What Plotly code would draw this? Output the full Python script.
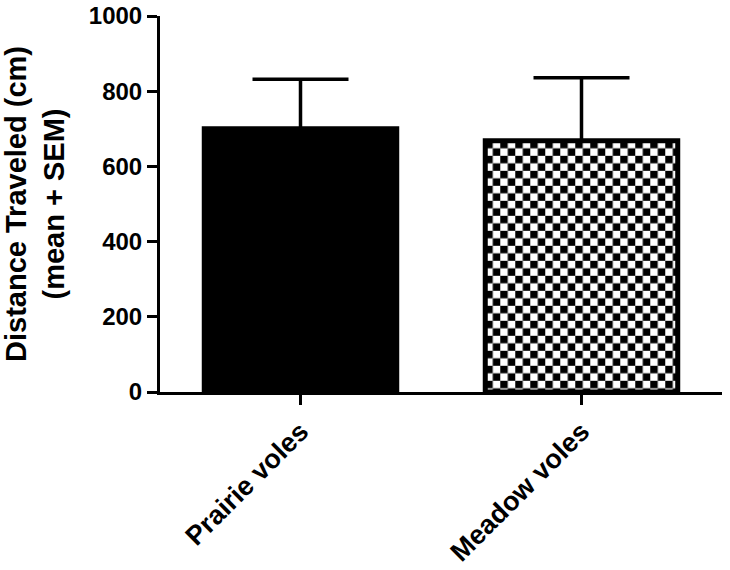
import base64
import plotly.graph_objects as go

# data
groups = ["Prairie voles", "Meadow voles"]
means = [700, 668]
sems = [132, 168]
fills = ["black", "checker"]
y_ticks = [0, 200, 400, 600, 800, 1000]

W, H = 730, 570
ml, mr, mt, mb = 160, 8, 16, 178
bar_w = 0.685
xpos = list(range(len(groups)))
font = "Liberation Sans, Arial, sans-serif"

# checkerboard fill, drawn as svg tile image behind the outlined bar
def checker_svg(w, h, cell=7.5):
    svg = (f'<svg xmlns="http://www.w3.org/2000/svg" width="{w:.0f}" height="{h:.0f}" '
           f'viewBox="0 0 {w:.1f} {h:.1f}" preserveAspectRatio="none">'
           f'<defs><pattern id="p" width="{2*cell}" height="{2*cell}" patternUnits="userSpaceOnUse">'
           f'<rect width="{2*cell}" height="{2*cell}" fill="white"/>'
           f'<rect width="{cell}" height="{cell}" fill="black"/>'
           f'<rect x="{cell}" y="{cell}" width="{cell}" height="{cell}" fill="black"/>'
           f'</pattern></defs><rect width="100%" height="100%" fill="url(#p)"/></svg>')
    return "data:image/svg+xml;base64," + base64.b64encode(svg.encode()).decode()

px_per_x = (W - ml - mr) / len(groups)
px_per_y = (H - mt - mb) / 1000

images = []
for x, m, f in zip(xpos, means, fills):
    if f == "checker":
        images.append(dict(source=checker_svg(bar_w * px_per_x, m * px_per_y),
                           xref="x", yref="y", x=x - bar_w / 2, y=m,
                           sizex=bar_w, sizey=m, xanchor="left", yanchor="top",
                           sizing="stretch", layer="below"))

fig = go.Figure(go.Bar(
    x=xpos, y=means, width=bar_w,
    marker=dict(color=["black" if f == "black" else "rgba(0,0,0,0)" for f in fills],
                line=dict(color="black", width=5)),
    error_y=dict(type="data", array=sems, arrayminus=[0] * len(sems), symmetric=False,
                 color="black", thickness=3.5, width=48),
))

fig.update_layout(
    width=W, height=H,
    margin=dict(l=ml, r=mr, t=mt, b=mb),
    plot_bgcolor="white", paper_bgcolor="white",
    showlegend=False,
    images=images,
    font=dict(family=font, color="black"),
)
fig.update_xaxes(range=[-0.5, 1.5], tickvals=xpos, ticktext=groups, tickangle=-45,
                 showline=True, linecolor="black", linewidth=3, automargin=False,
                 ticks="outside", ticklen=10, tickwidth=3, tickcolor="black",
                 tickfont=dict(size=27, weight="bold"), showgrid=False, zeroline=False)
fig.update_yaxes(range=[0, 1000], tickvals=y_ticks, automargin=False,
                 ticklabeloverflow="allow",
                 showline=True, linecolor="black", linewidth=3,
                 ticks="outside", ticklen=10, tickwidth=3, tickcolor="black",
                 tickfont=dict(size=24, weight="bold"), showgrid=False, zeroline=False,
                 title=dict(text="Distance Traveled (cm)<br>(mean + SEM)",
                            font=dict(size=29, weight="bold"), standoff=22))

# drop the default 8px body margin so the figure fills the window exactly
fig.write_html("out.html", config={"displayModeBar": False},
               post_script="document.body.style.margin='0';")
